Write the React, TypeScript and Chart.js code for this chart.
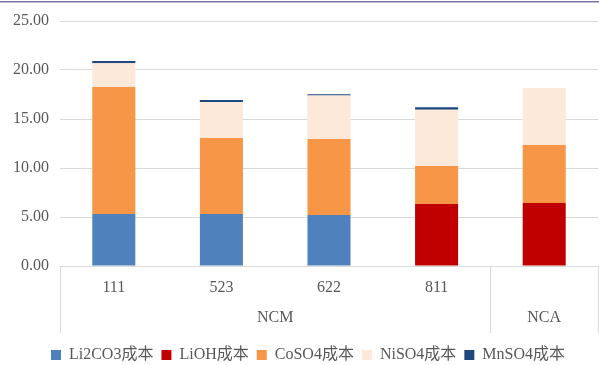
import React, { useEffect, useRef } from "react";
import { Chart, registerables } from "chart.js";

Chart.register(...registerables);

const categories = ["111", "523", "622", "811", "NCA"];
const groups = [
  { label: "NCM", from: 0, to: 3 },
  { label: "NCA", from: 4, to: 4 },
];
const tickLabels = ["111", "523", "622", "811", ""];
const li2co3 = [5.31, 5.3, 5.2, null, null];
const lioh = [null, null, null, 6.33, 6.43];
const coso4 = [12.96, 7.76, 7.76, 3.87, 5.92];
const niso4 = [2.41, 3.67, 4.44, 5.75, 5.81];
const mnso4 = [0.25, 0.2, 0.12, 0.25, null];
const yTicks = [0, 5, 10, 15, 20, 25];

const FONT = "'Liberation Serif', 'Times New Roman', 'Noto Sans CJK SC', serif";
const TEXT = "#595959";
const LINE = "#d9d9d9";

export default function App() {
  const ref = useRef<HTMLCanvasElement | null>(null);
  useEffect(() => {
    if (!ref.current) return;
    const axisPlugin = {
      id: "groupAxis",
      afterInit(chart: any) {
        const lg = chart.legend;
        if (lg && !lg.__patched) {
          const orig = lg.fit.bind(lg);
          lg.fit = function () {
            orig();
            this.height = 26;
          };
          lg.__patched = true;
        }
      },
      afterLayout(chart: any) {
        const lg = chart.legend;
        if (lg) {
          lg.left += 9;
          lg.right += 9;
        }
      },
      afterDraw(chart: any) {
        const ctx = chart.ctx;
        const { left, right, bottom } = chart.chartArea;
        const xs = chart.scales.x;
        const depth = 67;
        ctx.save();
        ctx.strokeStyle = LINE;
        ctx.lineWidth = 1;
        ctx.beginPath();
        ctx.moveTo(left, bottom + 0.5);
        ctx.lineTo(right, bottom + 0.5);
        const seps: number[] = [left];
        for (let g = 0; g < groups.length - 1; g++) {
          const a = xs.getPixelForValue(groups[g].to);
          const b = xs.getPixelForValue(groups[g + 1].from);
          seps.push((a + b) / 2);
        }
        seps.push(right);
        seps.forEach((s) => {
          const x = Math.round(s) + 0.5;
          ctx.moveTo(x, bottom);
          ctx.lineTo(x, bottom + depth);
        });
        ctx.stroke();
        ctx.fillStyle = TEXT;
        ctx.font = "16px " + FONT;
        ctx.textAlign = "center";
        ctx.textBaseline = "middle";
        tickLabels.forEach((t, i) => {
          if (t) ctx.fillText(t, xs.getPixelForValue(i), bottom + 22);
        });
        groups.forEach((g, i) => {
          const cx = (seps[i] + seps[i + 1]) / 2;
          ctx.fillText(g.label, cx, bottom + 52);
        });
        ctx.fillStyle = "#7b74a6";
        ctx.fillRect(0, 1, chart.width, 1.5);
        ctx.restore();
      },
    };
    const chart = new Chart(ref.current, {
      type: "bar",
      data: {
        labels: categories,
        datasets: [
          { label: "Li2CO3成本", data: li2co3, backgroundColor: "#4f81bd" },
          { label: "LiOH成本", data: lioh, backgroundColor: "#c00000" },
          { label: "CoSO4成本", data: coso4, backgroundColor: "#f79646" },
          { label: "NiSO4成本", data: niso4, backgroundColor: "#fde9d9" },
          { label: "MnSO4成本", data: mnso4, backgroundColor: "#1f497d" },
        ],
      },
      options: {
        responsive: false,
        animation: false,
        layout: { padding: { top: 21, right: 1, left: 0, bottom: 0 } },
        datasets: { bar: { categoryPercentage: 1, barPercentage: 0.4, borderWidth: 0 } },
        plugins: {
          tooltip: { enabled: false },
          legend: {
            position: "bottom",
            labels: {
              boxWidth: 10,
              boxHeight: 10,
              padding: 8,
              color: TEXT,
              font: { size: 16, family: FONT },
            },
          },
        },
        scales: {
          x: {
            stacked: true,
            grid: { display: false },
            border: { display: false },
            ticks: { display: false },
            afterFit(s: any) {
              s.height = 73;
            },
          },
          y: {
            stacked: true,
            min: 0,
            max: 25,
            afterBuildTicks(s: any) {
              s.ticks = yTicks.map((v) => ({ value: v }));
            },
            ticks: {
              padding: 11,
              color: TEXT,
              font: { size: 16, family: FONT },
              callback: (v: any) => Number(v).toFixed(2),
            },
            grid: { color: LINE, drawTicks: false },
            border: { display: false },
            afterFit(s: any) {
              s.width = 60;
            },
          },
        },
      },
      plugins: [axisPlugin],
    });
    return () => chart.destroy();
  }, []);
  return (
    <div style={{ position: "fixed", left: 0, top: 0, width: 599, height: 365, background: "#fff" }}>
      <canvas ref={ref} width={599} height={365} style={{ display: "block" }} />
    </div>
  );
}
